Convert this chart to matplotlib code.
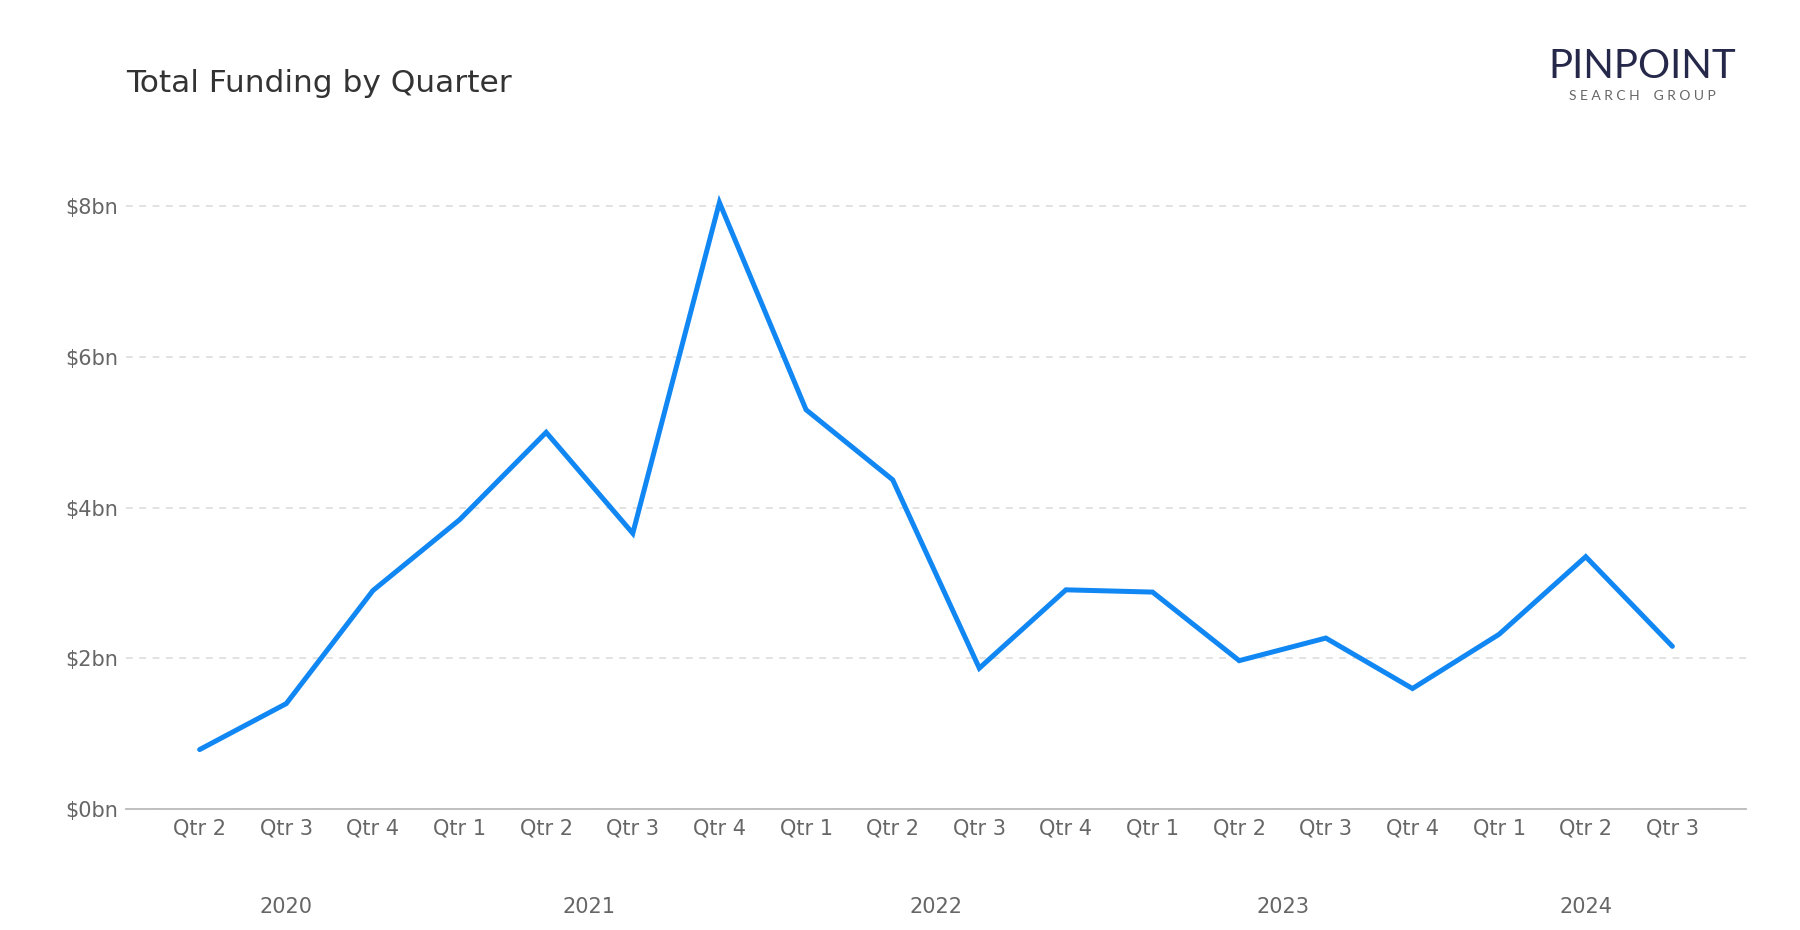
import matplotlib.pyplot as plt
from matplotlib.ticker import FuncFormatter

# quarterly totals in $bn, 2020 Q2 .. 2024 Q3
quarters = ["Qtr 2", "Qtr 3", "Qtr 4",
            "Qtr 1", "Qtr 2", "Qtr 3", "Qtr 4",
            "Qtr 1", "Qtr 2", "Qtr 3", "Qtr 4",
            "Qtr 1", "Qtr 2", "Qtr 3", "Qtr 4",
            "Qtr 1", "Qtr 2", "Qtr 3"]
funding = [0.79, 1.40, 2.90, 3.84, 5.00, 3.66, 8.05, 5.30, 4.37,
           1.87, 2.91, 2.88, 1.97, 2.27, 1.60, 2.32, 3.35, 2.16]
years = ["2020", "2021", "2022", "2023", "2024"]
year_quarters = [3, 4, 4, 4, 3]   # quarters shown per year

fig = plt.figure(figsize=(18, 9.3), dpi=100)
ax = fig.add_axes([0.07, 0.13, 0.90, 0.713])

x = list(range(len(funding)))
ax.plot(x, funding, color="#1187F4", lw=3.6, solid_capstyle="round",
        solid_joinstyle="miter", zorder=3)

ax.set_xlim(-0.85, len(funding) - 1 + 0.85)
ax.set_ylim(0, 8.8)
ax.set_yticks([0, 2, 4, 6, 8])
ax.yaxis.set_major_formatter(FuncFormatter(lambda v, p: f"${v:.0f}bn"))
ax.set_xticks(x)
ax.set_xticklabels(quarters)

ax.grid(axis="y", color="#dddddd", linestyle=(0, (4, 4)), lw=1.2)
ax.set_axisbelow(True)
for s in ["top", "right", "left"]:
    ax.spines[s].set_visible(False)
ax.spines["bottom"].set_color("#bbbbbb")
ax.spines["bottom"].set_linewidth(1.3)
ax.tick_params(length=0, labelsize=15, labelcolor="#666666")
ax.tick_params(axis="x", pad=7)
ax.tick_params(axis="y", pad=5.5)

# year labels centred under their quarters
start = 0
for yr, n in zip(years, year_quarters):
    mid = start + (n - 1) / 2
    ax.text(mid, -0.148, yr, transform=ax.get_xaxis_transform(),
            ha="center", va="center", fontsize=15, color="#666666")
    start += n

fig.text(0.07, 0.91, "Total Funding by Quarter", fontsize=22.5,
         color="#333333", va="center", ha="left")

# logo
fig.text(0.9125, 0.928, "PINPOINT", fontsize=29, color="#26284a",
         family="Lato", ha="center", va="center")
fig.text(0.9125, 0.897, "S E A R C H    G R O U P", fontsize=10,
         color="#666666", family="Lato", ha="center", va="center")

fig.savefig("out.png", dpi=100, facecolor="white")
